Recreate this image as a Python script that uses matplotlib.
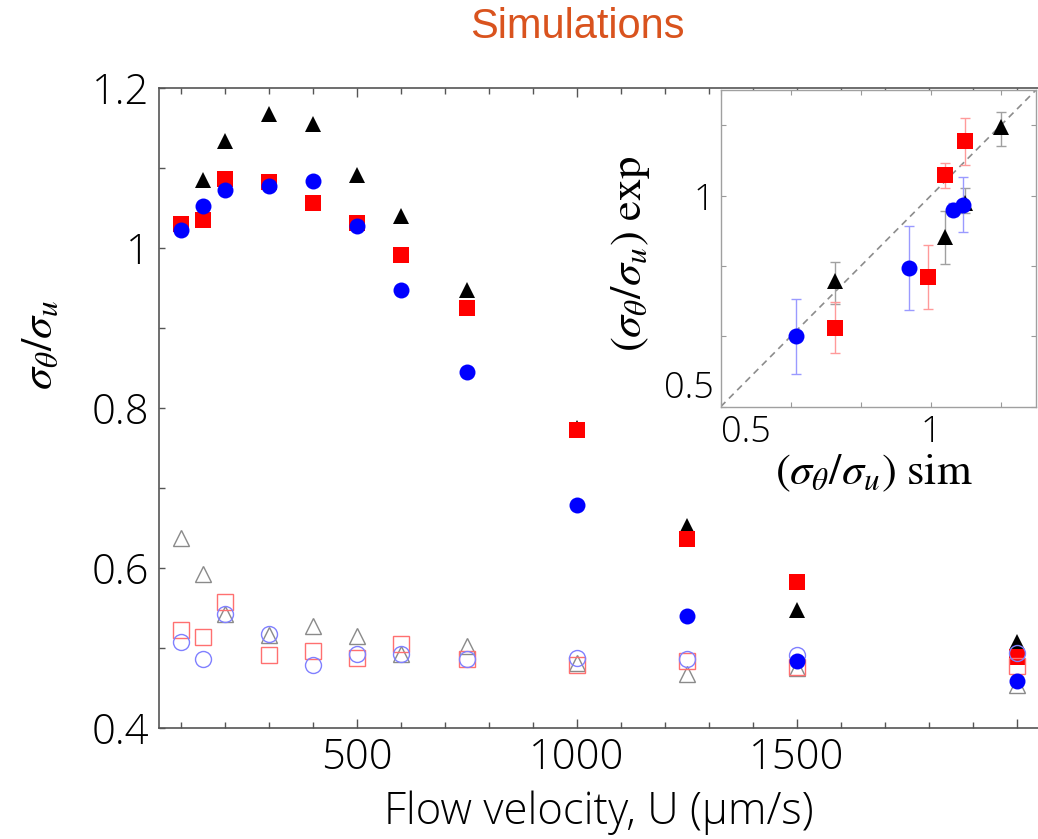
import matplotlib
matplotlib.use("Agg")
import matplotlib.pyplot as plt
import numpy as np
from matplotlib.ticker import FixedLocator, FixedFormatter, NullLocator

plt.rcParams["mathtext.fontset"] = "stix"

# ---- main panel data -------------------------------------------------------
velocity = [100, 150, 200, 300, 400, 500, 600, 750, 1000, 1250, 1500, 2000]
velocity_tri = [150, 200, 300, 400, 500, 600, 750, 1000, 1250, 1500, 2000]

# filled markers
tri_filled = [1.085, 1.134, 1.168, 1.155, 1.091, 1.040, 0.947, 0.775, 0.652, 0.547, 0.508]
sq_filled = [1.030, 1.035, 1.086, 1.082, 1.056, 1.031, 0.991, 0.925, 0.772, 0.636, 0.582, 0.489]
circ_filled = [1.022, 1.053, 1.072, 1.0775, 1.084, 1.028, 0.9475, 0.845, 0.679, 0.540, 0.484, 0.459]

# open markers
tri_open = [0.638, 0.593, 0.543, 0.516, 0.527, 0.515, 0.4925, 0.502, 0.481, 0.468, 0.475, 0.454]
sq_open = [0.522, 0.514, 0.558, 0.491, 0.496, 0.488, 0.505, 0.486, 0.479, 0.484, 0.476, 0.477]
circ_open = [0.508, 0.486, 0.543, 0.517, 0.479, 0.4925, 0.493, 0.486, 0.4875, 0.486, 0.491, 0.494]

x_ticks_major = [500, 1000, 1500, 2000]
x_tick_labels = ["500", "1000", "1500", ""]
x_ticks_minor = [100, 200, 300, 400, 600, 700, 800, 900, 1100, 1200, 1300, 1400,
                 1600, 1700, 1800, 1900]
y_ticks_major = [0.4, 0.6, 0.8, 1.0, 1.2]
y_tick_labels = ["0.4", "0.6", "0.8", "1", "1.2"]
y_ticks_minor = [0.5, 0.7, 0.9, 1.1]

# ---- inset data (simulated vs experimental ratio) --------------------------
in_circ_x = [0.640, 0.930, 1.074, 1.110]
in_circ_y = [0.631, 0.789, 0.955, 0.971]
in_circ_lo = [0.556, 0.687, 0.935, 0.887]
in_circ_hi = [0.713, 0.906, 0.975, 1.061]

in_sq_x = [0.729, 0.989, 1.049, 1.120]
in_sq_y = [0.648, 0.765, 1.068, 1.197]
in_sq_lo = [0.597, 0.690, 1.026, 1.107]
in_sq_hi = [0.704, 0.851, 1.113, 1.289]

in_tri_x = [0.729, 1.049, 1.120, 1.259]
in_tri_y = [0.755, 0.873, 0.975, 1.254]
in_tri_lo = [0.701, 0.800, 0.944, 1.178]
in_tri_hi = [0.804, 0.952, 1.026, 1.314]

in_ticks = [0.5, 0.631, 0.794, 1.0, 1.259]
in_tick_labels = ["0.5", "", "", "1", ""]
in_lims = (0.5, 1.414)

# ---- styling ----------------------------------------------------------------
TICK_FONT = dict(family="Open Sans", weight="light")
SPINE = "#555555"
ms = 11.5

fig = plt.figure(figsize=(10.38, 8.39), dpi=100)
ax = fig.add_axes([159 / 1038, 111 / 839, 880 / 1038, 640 / 839])

# open markers
ax.plot(velocity, tri_open, ls="none", marker="^", ms=ms, mfc="none",
        mec="#8a8a8a", mew=1.0, zorder=3)
ax.plot(velocity, sq_open, ls="none", marker="s", ms=ms - 0.5, mfc="none",
        mec="#ff7070", mew=1.0, zorder=3)
ax.plot(velocity, circ_open, ls="none", marker="o", ms=ms, mfc="none",
        mec="#8080ff", mew=1.0, zorder=3.5)

# filled markers
ax.plot(velocity_tri, tri_filled, ls="none", marker="^", ms=ms, color="black",
        mew=0, zorder=2)
ax.plot(velocity, sq_filled, ls="none", marker="s", ms=ms - 0.5, color="#ff0000",
        mew=0, zorder=2.5)
ax.plot(velocity, circ_filled, ls="none", marker="o", ms=ms, color="#0000ff",
        mew=0, zorder=4)

ax.set_xlim(50, 2050)
ax.set_ylim(0.4, 1.2)
ax.xaxis.set_major_locator(FixedLocator(x_ticks_major))
ax.xaxis.set_major_formatter(FixedFormatter(x_tick_labels))
ax.xaxis.set_minor_locator(FixedLocator(x_ticks_minor))
ax.yaxis.set_major_locator(FixedLocator(y_ticks_major))
ax.yaxis.set_major_formatter(FixedFormatter(y_tick_labels))
ax.yaxis.set_minor_locator(FixedLocator(y_ticks_minor))
ax.tick_params(which="both", direction="in", top=True, right=False,
               color=SPINE, width=1.0)
ax.tick_params(axis="x", which="major", length=6.5, pad=6)
ax.tick_params(axis="x", which="minor", length=4.3)
ax.tick_params(axis="y", which="both", length=4.3, pad=7)
for lab in ax.get_xticklabels() + ax.get_yticklabels():
    lab.set_fontsize(30)
    lab.set_fontfamily(TICK_FONT["family"])
    lab.set_fontweight(TICK_FONT["weight"])
for side, sp in ax.spines.items():
    sp.set_color(SPINE)
    sp.set_linewidth(1.2)
ax.spines["right"].set_visible(False)

ax.set_xlabel("Flow velocity, U (\u03bcm/s)", fontsize=31.5,
              fontfamily=TICK_FONT["family"], fontweight=TICK_FONT["weight"],
              va="center")
ax.xaxis.set_label_coords(0.5, (728 - 813) / 640)
ax.set_ylabel(r"$\sigma_\theta/\sigma_u$", fontsize=32, va="center")
ax.yaxis.set_label_coords((40 - 159) / 880, (728 - 345) / 640)

fig.text(577 / 1038, 1 - 27 / 839, "Simulations", color="#d9531e",
         fontsize=30, fontfamily="Liberation Sans", ha="center", va="center")

# ---- inset ------------------------------------------------------------------
ins = fig.add_axes([720.7 / 1038, 432.3 / 839, 315.3 / 1038, 316.7 / 839])
ins.set_xscale("log")
ins.set_yscale("log")
ins.plot(in_lims, in_lims, ls=(0, (4, 3)), color="#8c8c8c", lw=1.2, zorder=1)


def _err(y, lo, hi):
    y = np.asarray(y)
    return np.vstack([y - np.asarray(lo), np.asarray(hi) - y])


def _series(x, y, lo, hi, marker, size, color, ecolor, z):
    ins.errorbar(x, y, yerr=_err(y, lo, hi), fmt="none", ecolor=ecolor,
                 elinewidth=1.0, capsize=3.5, capthick=1.0, zorder=z - 0.5)
    ins.plot(x, y, ls="none", marker=marker, ms=size, color=color, mew=0,
             zorder=z)


_series(in_tri_x, in_tri_y, in_tri_lo, in_tri_hi, "^", ms, "black", "#a0a0a0", 3)
_series(in_sq_x, in_sq_y, in_sq_lo, in_sq_hi, "s", ms - 0.5, "#ff0000", "#ff9a9a", 3.2)
_series(in_circ_x, in_circ_y, in_circ_lo, in_circ_hi, "o", ms, "#0000ff", "#9a9aff", 4)

ins.set_xlim(*in_lims)
ins.set_ylim(*in_lims)
for axis in (ins.xaxis, ins.yaxis):
    axis.set_major_locator(FixedLocator(in_ticks))
    axis.set_major_formatter(FixedFormatter(in_tick_labels))
    axis.set_minor_locator(NullLocator())
ins.tick_params(which="both", direction="in", top=True, right=True,
                length=3.5, width=0.8, color="#9a9a9a", labelsize=26, pad=5)
for lab in ins.get_xticklabels() + ins.get_yticklabels():
    lab.set_fontfamily(TICK_FONT["family"])
    lab.set_fontweight(TICK_FONT["weight"])
ins.get_xticklabels()[0].set_horizontalalignment("left")
ins.get_yticklabels()[0].set_verticalalignment("bottom")
for sp in ins.spines.values():
    sp.set_color("#a0a0a0")
    sp.set_linewidth(1.0)

ins.set_xlabel(r"$(\sigma_\theta/\sigma_u)\ \mathrm{sim}$", fontsize=32, va="center")
ins.xaxis.set_label_coords((874 - 720.7) / 315.3, (406.7 - 473) / 316.7)
ins.set_ylabel(r"$(\sigma_\theta/\sigma_u)\ \mathrm{exp}$", fontsize=32, va="center")
ins.yaxis.set_label_coords((630 - 720.7) / 315.3, (406.7 - 254) / 316.7)

fig.savefig("out.png", dpi=100)
